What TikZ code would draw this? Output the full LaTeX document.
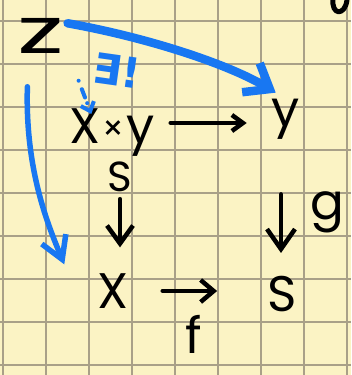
\documentclass[tikz,border=0pt]{standalone}
\usepackage{fontspec}
\setmainfont{Poppins}
\newfontfamily\dejavu{DejaVu Sans}
\usetikzlibrary{arrows.meta}
\definecolor{paper}{HTML}{FBF3C4}
\definecolor{gridc}{HTML}{A9A088}
\definecolor{pen}{HTML}{1877F2}
\begin{document}
\begin{tikzpicture}[x=1pt,y=-1pt,
  lab/.style={font=\fontsize{50}{50}\selectfont, inner sep=0pt, text=black},
  small/.style={font=\fontsize{42}{42}\selectfont, inner sep=0pt, text=black},
  blk/.style={draw=black, line width=4.5pt, line cap=round, line join=round},
  blu/.style={draw=pen, line cap=round, line join=round}]
\useasboundingbox (0,0) rectangle (351,375);
\fill[paper] (0,0) rectangle (351,375);
\foreach \gx in {3,46,89,132,175,218,261,304,347}
  \draw[gridc, line width=1.2pt] (\gx,0) -- (\gx,375);
\foreach \gy in {21,64,107,150,193,236,279,322,365}
  \draw[gridc, line width=1.2pt] (0,\gy) -- (351,\gy);

% nodes
\node[lab, font=\fontsize{64}{64}\selectfont, xscale=1.6] (z) at (41,36) {z};
\node[lab] (P) at (112,133) {X\hspace{2pt}\raisebox{3pt}{\fontsize{34}{34}\selectfont ×}\hspace{2pt}y};
\node[small] (Ps) at (120,177) {S};
\node[lab] (Y) at (286,119) {y};
\node[lab] (X) at (113,291) {X};
\node[lab] (S) at (282,294) {S};
\node[lab] (g) at (327,212) {g};
\node[lab] (f) at (194,334) {f};
\node[text=pen, inner sep=0pt, rotate=-8, font={\fontsize{42}{42}\selectfont\dejavu\bfseries}] (ex) at (117,71) {∃!};

% black arrows
\draw[blk, -{Straight Barb[length=11pt,width=16pt]}, shorten <=16pt, shorten >=25pt]
  ([shift={(0,-10)}]P.east) -- ([shift={(0,-10)}]P.east -| Y.west);
\draw[blk, -{Straight Barb[length=18pt,width=26pt]}, shorten <=7pt, shorten >=26pt]
  (Ps.south) -- (Ps.south |- X.north);
\draw[blk, -{Straight Barb[length=20pt,width=28pt]}, shorten <=55pt, shorten >=23pt]
  ([shift={(-5,0)}]Y.south) -- ([shift={(-5,0)}]Y.south |- S.north);
\draw[blk, -{Straight Barb[length=13pt,width=22pt]}, shorten <=34pt, shorten >=50pt]
  (X.east) -- (X.east -| S.west);

% blue arrows
\draw[blu, line width=8.5pt, -{Straight Barb[length=22pt,width=34pt]}]
  ([shift={(3,5)}]z.north east) .. controls (150,38) and (230,65) .. ([shift={(4,-6)}]Y.north west);
\draw[blu, line width=5.5pt, -{Straight Barb[length=22pt,width=26pt]}]
  ([shift={(10,33)}]z.south west) .. controls (25,170) and (48,225) .. ([shift={(-33,-9)}]X.north west);
\draw[blu, line width=4pt, dash pattern=on 0pt off 9pt on 9pt off 6pt, -{Straight Barb[length=8pt,width=14pt]}]
  ([shift={(14,27)}]z.south east) -- ([shift={(22,5)}]P.north west);

% partial mark at top right
\draw[blk, line width=5pt] (333,-2) .. controls (331,16) and (345,16) .. (347,0);
\end{tikzpicture}
\end{document}
